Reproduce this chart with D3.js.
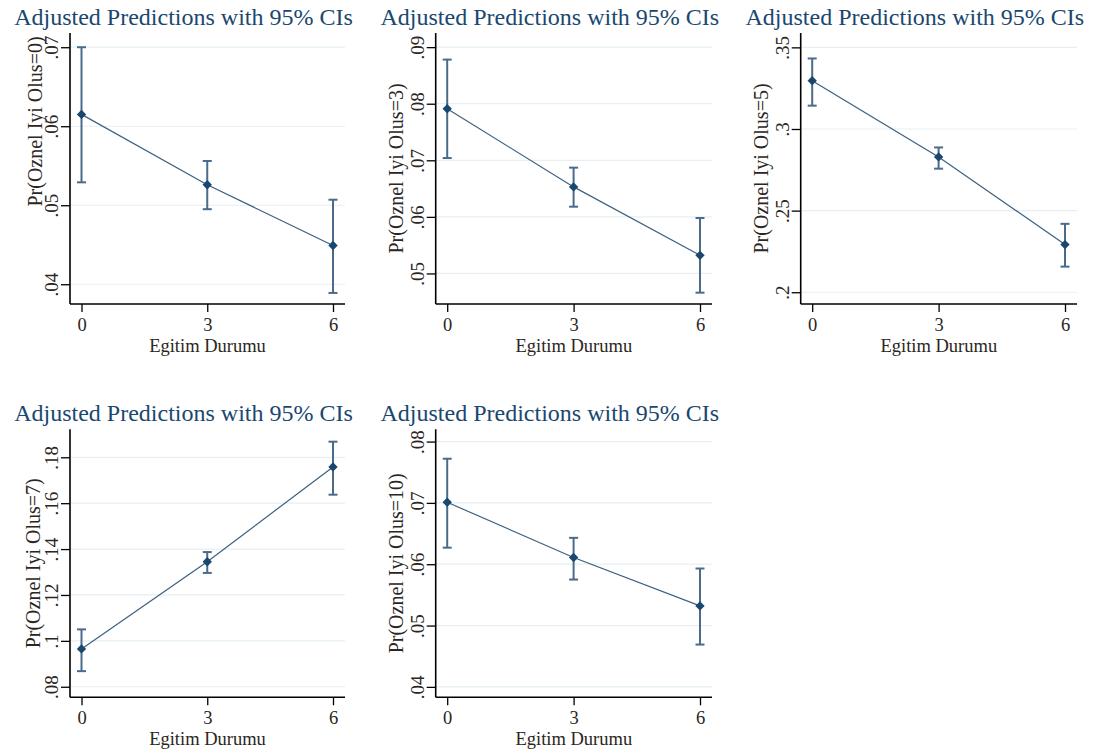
<!DOCTYPE html>
<html>
<head>
<meta charset="utf-8">
<script src="https://cdn.jsdelivr.net/npm/d3@7"></script>
<style>
  body { margin: 0; background: #fff; }
  text { font-family: "Liberation Serif", "Times New Roman", serif; }
</style>
</head>
<body>
<script>
// Education levels on the x axis
const xValues = [0, 3, 6];
// Outcome level shown in each panel
const outcomes = [0, 3, 5, 7, 10];

// Adjusted predictions and 95% CI bounds, one row per panel
const predictions = [
  [0.0615, 0.0526, 0.0449],
  [0.0791, 0.0653, 0.0532],
  [0.3296, 0.2829, 0.2292],
  [0.0965, 0.1345, 0.1758],
  [0.0701, 0.0611, 0.0532]
];
const ciLower = [
  [0.0529, 0.0495, 0.0389],
  [0.0704, 0.0618, 0.0466],
  [0.3143, 0.2757, 0.2157],
  [0.0868, 0.1296, 0.1637],
  [0.0627, 0.0575, 0.0469]
];
const ciUpper = [
  [0.0700, 0.0556, 0.0507],
  [0.0878, 0.0687, 0.0598],
  [0.3432, 0.2887, 0.2419],
  [0.1050, 0.1387, 0.1868],
  [0.0772, 0.0643, 0.0593]
];

// y ticks and y ranges for each panel
const yTicks = [
  [0.04, 0.05, 0.06, 0.07],
  [0.05, 0.06, 0.07, 0.08, 0.09],
  [0.2, 0.25, 0.3, 0.35],
  [0.08, 0.1, 0.12, 0.14, 0.16, 0.18],
  [0.04, 0.05, 0.06, 0.07, 0.08]
];
const yDomains = [
  [0.0375, 0.0718],
  [0.0446, 0.0925],
  [0.1928, 0.3588],
  [0.0754, 0.1922],
  [0.0383, 0.0820]
];

const titleText = "Adjusted Predictions with 95% CIs";
const xTitle = "Egitim Durumu";

// layout of the 3 + 2 grid
const colLeft = [70, 435.7, 800.7];
const colRight = [345, 712, 1077];
const rowTop = [33, 429.3];
const rowBottom = [304, 697.3];
const labelShift = [-47, 0, 0, 0, 0];   // y-title offset seen in first panel
const labelGap = [35, 39, 39, 37, 39];

const navy = "#1a476f";
const ink = "#2a2622";

const svg = d3.select("body").append("svg")
  .attr("width", 1097)
  .attr("height", 751);

svg.append("rect").attr("width", 1097).attr("height", 751).attr("fill", "#fff");

const stataNum = v => String(+v.toFixed(3)).replace(/^0\./, ".");

outcomes.forEach((outcome, i) => {
  const col = i % 3, row = Math.floor(i / 3);
  const left = colLeft[col], right = colRight[col];
  const top = rowTop[row], bottom = rowBottom[row];

  const x = d3.scaleLinear().domain([0, 6]).range([left + 11.5, right - 12]);
  const y = d3.scaleLinear().domain(yDomains[i]).range([bottom, top]);

  const g = svg.append("g");

  // gridlines
  g.selectAll(".grid")
    .data(yTicks[i])
    .enter()
    .append("line")
    .attr("x1", left).attr("x2", right)
    .attr("y1", d => y(d)).attr("y2", d => y(d))
    .attr("stroke", "#e6eff2")
    .attr("stroke-width", 1.2);

  // y axis
  const yAxis = g.append("g")
    .attr("transform", `translate(${left},0)`)
    .call(d3.axisLeft(y).tickValues(yTicks[i]).tickSize(9).tickPadding(0).tickFormat(stataNum));
  yAxis.select(".domain").attr("d", `M0,${top}V${bottom}`).attr("stroke", "#000").attr("stroke-width", 1.6);
  yAxis.selectAll(".tick line").attr("stroke", "#000").attr("stroke-width", 1.3);
  yAxis.selectAll(".tick text")
    .attr("transform", "rotate(-90)")
    .attr("x", 0).attr("y", -12)
    .attr("dy", 0)
    .attr("text-anchor", "middle")
    .attr("font-size", 19)
    .attr("font-family", "Liberation Serif")
    .attr("fill", ink);

  // x axis
  const xAxis = g.append("g")
    .attr("transform", `translate(0,${bottom})`)
    .call(d3.axisBottom(x).tickValues(xValues).tickSize(8).tickPadding(0).tickFormat(d3.format("d")));
  xAxis.select(".domain").attr("d", `M${left},0H${right}`).attr("stroke", "#000").attr("stroke-width", 1.6);
  xAxis.selectAll(".tick line").attr("stroke", "#000").attr("stroke-width", 1.3);
  xAxis.selectAll(".tick text")
    .attr("y", 27).attr("dy", 0)
    .attr("font-size", 18.5)
    .attr("font-family", "Liberation Serif")
    .attr("fill", ink);

  // axis titles
  g.append("text")
    .attr("x", (left + right) / 2)
    .attr("y", bottom + 48)
    .attr("text-anchor", "middle")
    .attr("font-size", 18.5)
    .attr("fill", ink)
    .text(xTitle);

  g.append("text")
    .attr("transform", `translate(${left - labelGap[i] + 6.5},${(top + bottom) / 2 + labelShift[i]}) rotate(-90)`)
    .attr("text-anchor", "middle")
    .attr("font-size", 20)
    .attr("fill", ink)
    .text(`Pr(Oznel Iyi Olus=${outcome})`);

  // title
  g.append("text")
    .attr("x", (left + right) / 2 - 24)
    .attr("y", top - 8)
    .attr("text-anchor", "middle")
    .attr("font-size", 24)
    .attr("fill", navy)
    .text(titleText);

  const pts = xValues.map((xv, j) => ({ x: xv, p: predictions[i][j], lo: ciLower[i][j], hi: ciUpper[i][j] }));

  // connecting line
  g.append("path")
    .datum(pts)
    .attr("fill", "none")
    .attr("stroke", "#3d6080")
    .attr("stroke-width", 1.2)
    .attr("d", d3.line().x(d => x(d.x)).y(d => y(d.p)));

  // confidence intervals with caps
  const ci = g.selectAll(".ci").data(pts).enter().append("g").attr("stroke", "#4a6b8c").attr("stroke-width", 2);
  ci.append("line")
    .attr("x1", d => x(d.x)).attr("x2", d => x(d.x))
    .attr("y1", d => y(d.lo)).attr("y2", d => y(d.hi));
  ci.append("line")
    .attr("x1", d => x(d.x) - 4.5).attr("x2", d => x(d.x) + 4.5)
    .attr("y1", d => y(d.lo)).attr("y2", d => y(d.lo));
  ci.append("line")
    .attr("x1", d => x(d.x) - 4.5).attr("x2", d => x(d.x) + 4.5)
    .attr("y1", d => y(d.hi)).attr("y2", d => y(d.hi));

  // diamond markers
  g.selectAll(".pt")
    .data(pts)
    .enter()
    .append("path")
    .attr("d", d3.symbol().type(d3.symbolSquare).size(44))
    .attr("transform", d => `translate(${x(d.x)},${y(d.p)}) rotate(45)`)
    .attr("fill", navy);
});
</script>
</body>
</html>
